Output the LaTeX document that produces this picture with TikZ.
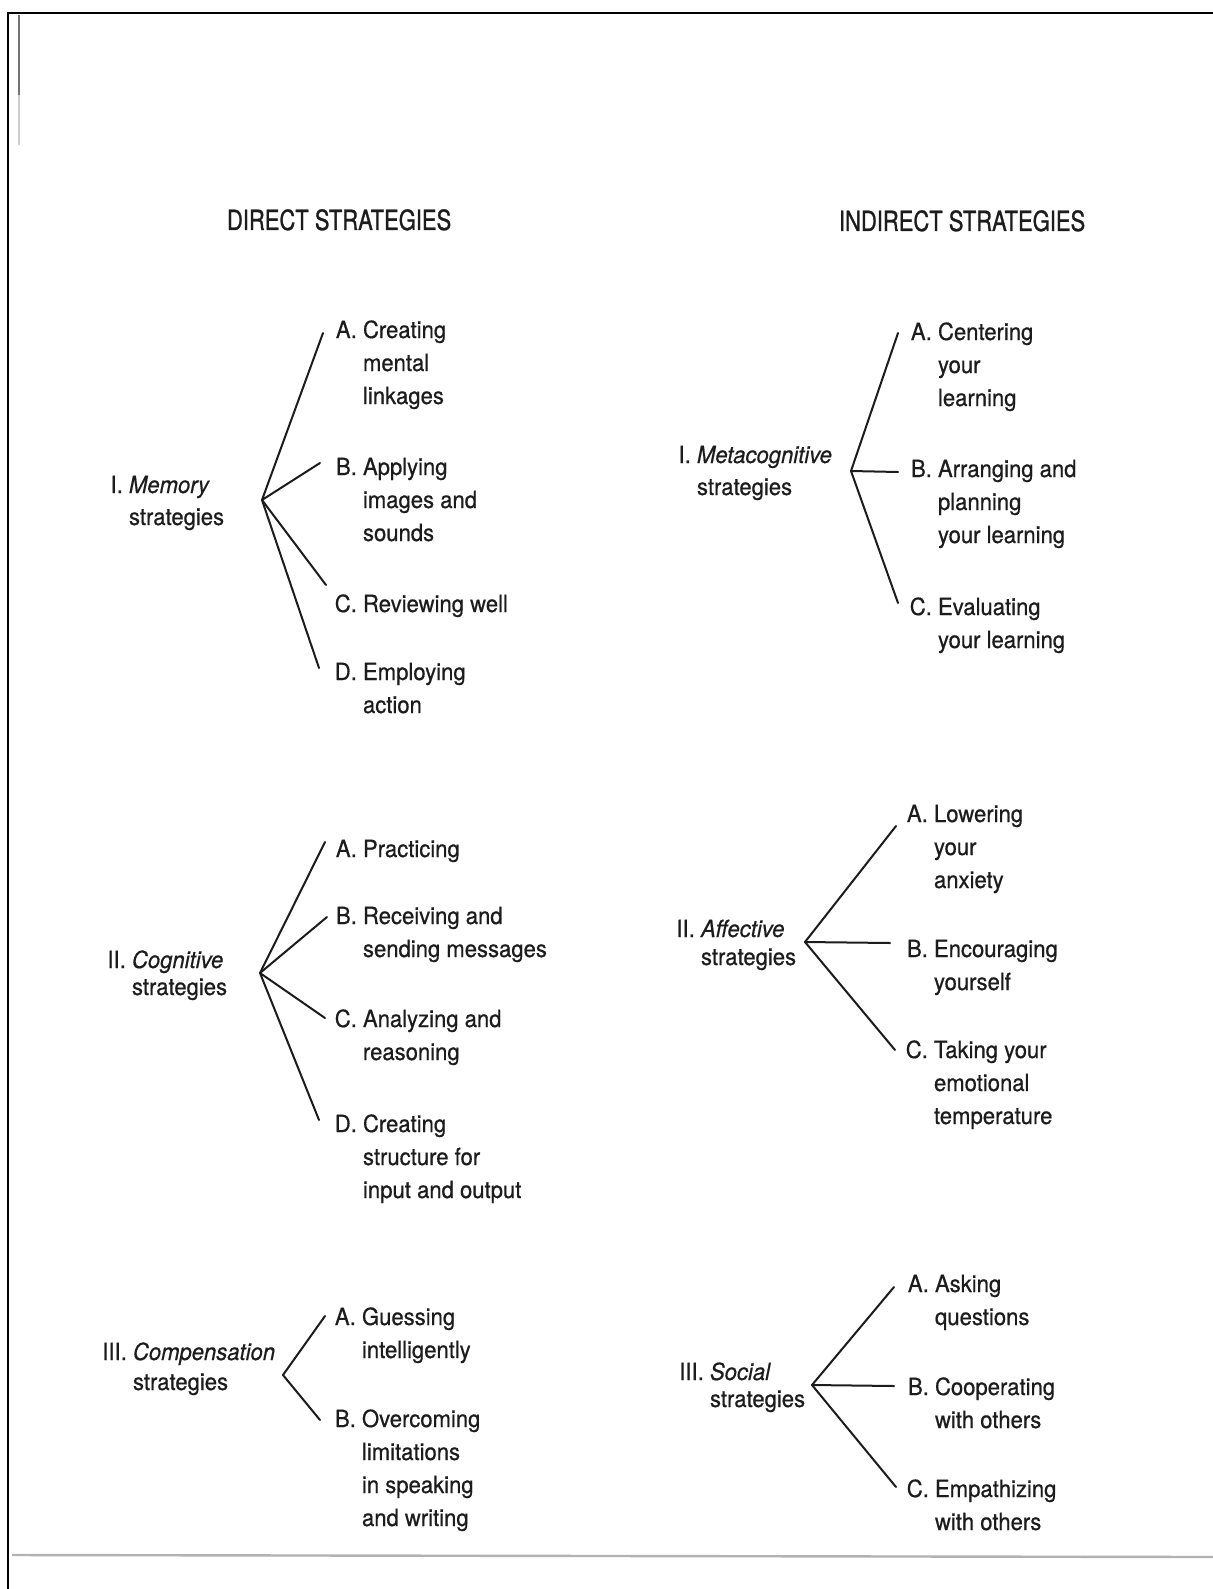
\documentclass[tikz,border=0pt]{standalone}
\usepackage{fontspec}
\setmainfont[FakeStretch=0.935,FakeBold=0.6]{TeX Gyre Heros}
\newfontfamily\headfont[FakeStretch=0.79,FakeBold=1.0]{TeX Gyre Heros}
\definecolor{ink}{HTML}{1C1C1C}
\newcommand\lines[1]{\begin{tabular}[t]{@{}l@{}}#1\end{tabular}}
\newcommand\lab[1]{\llap{#1\ }}
\begin{document}
\begin{tikzpicture}[x=0.5pt,y=-0.5pt,
  txt/.style={anchor=base west, inner sep=0pt, outer sep=0pt, text=ink,
    font=\fontsize{11.8}{16.5}\selectfont},
  head/.style={anchor=base west, inner sep=0pt, outer sep=0pt, text=ink,
    font=\headfont\fontsize{13.9}{16}\selectfont},
  branch/.style={line width=1pt, draw=ink, line cap=round},
  frame/.style={line width=1pt, draw=black}]
\useasboundingbox (0,0) rectangle (1213,1589);
\fill[white] (0,0) rectangle (1213,1589);
% scan frame and page edges
\draw[frame] (1213,13) -- (8,13) -- (8,1589);
\draw[line width=1.2pt, black!55] (19,15) -- (19,95);
\draw[line width=0.8pt, black!20] (19,95) -- (19,145);
\draw[line width=1.2pt, black!30] (12,1555) -- (1213,1557);

% headings
\node[head] (direct) at (227,230) {DIRECT STRATEGIES};
\node[head] (indirect) at (839,231) {INDIRECT STRATEGIES};

% ---------- I. Memory ----------
\node[txt] (mem) at (129,493) {\lines{\lab{I.}\textit{Memory}\\[-0.5pt]strategies}};
\coordinate (memH) at (262,500);
\node[txt] (memA) at (363,338) {\lines{\lab{A.}Creating\\mental\\linkages}};
\node[txt] (memB) at (363,475) {\lines{\lab{B.}Applying\\images and\\sounds}};
\node[txt] (memC) at (363,612) {\lines{\lab{C.}Reviewing well}};
\node[txt] (memD) at (363,680) {\lines{\lab{D.}Employing\\action}};
\coordinate (memAe) at (323,333);
\coordinate (memBe) at (320,463);
\coordinate (memCe) at (326,585);
\coordinate (memDe) at (319,668);
\draw[branch] (memH) -- (memAe);
\draw[branch] (memH) -- (memBe);
\draw[branch] (memH) -- (memCe);
\draw[branch] (memH) -- (memDe);

% ---------- II. Cognitive ----------
\node[txt] (cog) at (132,968) {\lines{\lab{II.}\textit{Cognitive}\\[-3pt]strategies}};
\coordinate (cogH) at (260,973);
\node[txt] (cogA) at (363,857) {\lines{\lab{A.}Practicing}};
\node[txt] (cogB) at (363,924) {\lines{\lab{B.}Receiving and\\sending messages}};
\node[txt] (cogC) at (363,1027) {\lines{\lab{C.}Analyzing and\\reasoning}};
\node[txt] (cogD) at (363,1132) {\lines{\lab{D.}Creating\\structure for\\input and output}};
\coordinate (cogAe) at (325,842);
\coordinate (cogBe) at (327,917);
\coordinate (cogCe) at (325,1018);
\coordinate (cogDe) at (319,1120);
\draw[branch] (cogH) -- (cogAe);
\draw[branch] (cogH) -- (cogBe);
\draw[branch] (cogH) -- (cogCe);
\draw[branch] (cogH) -- (cogDe);

% ---------- III. Compensation ----------
\node[txt] (comp) at (133,1360) {\lines{\lab{III.}\textit{Compensation}\\[-1.5pt]strategies}};
\coordinate (compH) at (283,1375);
\node[txt] (compA) at (362,1325) {\lines{\lab{A.}Guessing\\intelligently}};
\node[txt] (compB) at (362,1427) {\lines{\lab{B.}Overcoming\\limitations\\in speaking\\and writing}};
\coordinate (compAe) at (325,1316);
\coordinate (compBe) at (320,1420);
\draw[branch] (compH) -- (compAe);
\draw[branch] (compH) -- (compBe);

% ---------- I. Metacognitive ----------
\node[txt] (meta) at (697,463) {\lines{\lab{I.}\textit{Metacognitive}\\[-0.5pt]strategies}};
\coordinate (metaH) at (851,471);
\node[txt] (metaA) at (938,340) {\lines{\lab{A.}Centering\\your\\learning}};
\node[txt] (metaB) at (938,477) {\lines{\lab{B.}Arranging and\\planning\\your learning}};
\node[txt] (metaC) at (938,615) {\lines{\lab{C.}Evaluating\\your learning}};
\coordinate (metaAe) at (898,333);
\coordinate (metaBe) at (898,472);
\coordinate (metaCe) at (898,603);
\draw[branch] (metaH) -- (metaAe);
\draw[branch] (metaH) -- (metaBe);
\draw[branch] (metaH) -- (metaCe);

% ---------- II. Affective ----------
\node[txt] (aff) at (701,937) {\lines{\lab{II.}\textit{Affective}\\[-2.5pt]strategies}};
\coordinate (affH) at (805,942);
\node[txt] (affA) at (934,822) {\lines{\lab{A.}Lowering\\your\\anxiety}};
\node[txt] (affB) at (934,957) {\lines{\lab{B.}Encouraging\\yourself}};
\node[txt] (affC) at (934,1058) {\lines{\lab{C.}Taking your\\emotional\\temperature}};
\coordinate (affAe) at (896,826);
\coordinate (affBe) at (890,943);
\coordinate (affCe) at (895,1050);
\draw[branch] (affH) -- (affAe);
\draw[branch] (affH) -- (affBe);
\draw[branch] (affH) -- (affCe);

% ---------- III. Social ----------
\node[txt] (soc) at (710,1380) {\lines{\lab{III.}\textit{Social}\\[-3pt]strategies}};
\coordinate (socH) at (812,1385);
\node[txt] (socA) at (935,1292) {\lines{\lab{A.}Asking\\questions}};
\node[txt] (socB) at (935,1395) {\lines{\lab{B.}Cooperating\\with others}};
\node[txt] (socC) at (935,1497) {\lines{\lab{C.}Empathizing\\with others}};
\coordinate (socAe) at (894,1287);
\coordinate (socBe) at (894,1386);
\coordinate (socCe) at (896,1487);
\draw[branch] (socH) -- (socAe);
\draw[branch] (socH) -- (socBe);
\draw[branch] (socH) -- (socCe);
\end{tikzpicture}
\end{document}
